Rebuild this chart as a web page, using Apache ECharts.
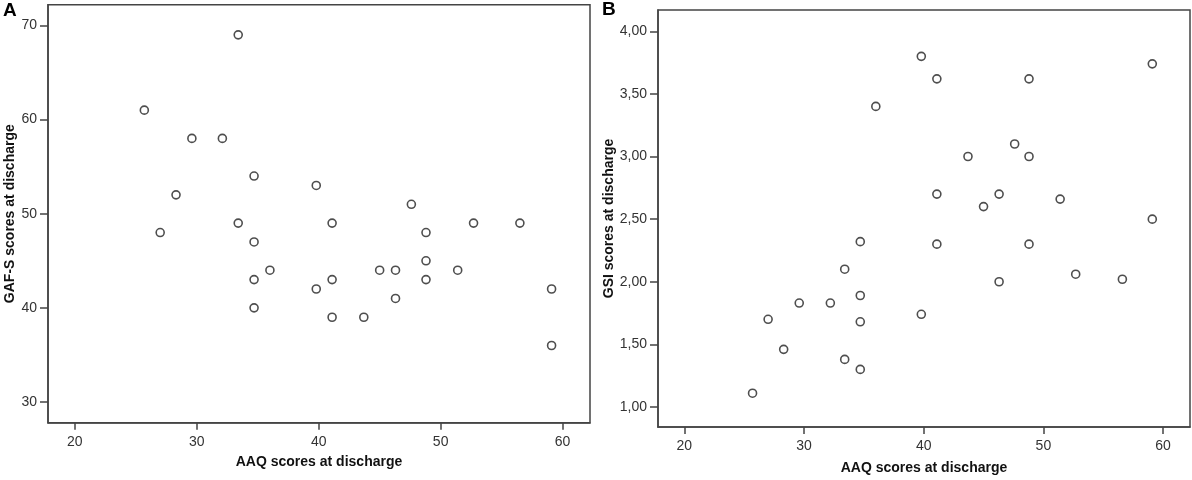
<!DOCTYPE html>
<html>
<head>
<meta charset="utf-8">
<script src="https://cdn.jsdelivr.net/npm/echarts@6/dist/echarts.min.js"></script>
<style>
  html, body { margin: 0; padding: 0; background: #fff; }
  #chart { width: 1192px; height: 480px; }
</style>
</head>
<body>
<div id="chart"></div>
<script>
// AAQ scores at discharge (shared x for both panels)
const aaq = [25.7, 27.0, 28.3, 29.6, 32.1, 33.4, 33.4, 34.7, 34.7, 34.7, 34.7, 36.0, 39.8, 39.8, 41.1,
  41.1, 41.1, 43.7, 45.0, 46.3, 46.3, 47.6, 48.8, 48.8, 48.8, 51.4, 52.7, 56.5, 59.1, 59.1];
// panel A: GAF-S scores, same order as aaq
const gafs = [61, 48, 52, 58, 58, 69, 49, 54, 47, 43, 40, 44, 53, 42, 49,
  43, 39, 39, 44, 44, 41, 51, 48, 45, 43, 44, 49, 49, 42, 36];

// panel B: pairs read separately (different ordering inside ties)
const aaqB = [25.7, 27.0, 28.3, 29.6, 32.2, 33.4, 33.4, 34.7, 34.7, 34.7, 34.7, 36.0, 39.8, 39.8, 41.1,
  41.1, 41.1, 43.7, 45.0, 46.3, 46.3, 47.6, 48.8, 48.8, 48.8, 51.4, 52.7, 56.6, 59.1, 59.1];
const gsi = [1.11, 1.70, 1.46, 1.83, 1.83, 2.10, 1.38, 2.32, 1.89, 1.68, 1.30, 3.40, 3.80, 1.74, 3.62,
  2.70, 2.30, 3.00, 2.60, 2.70, 2.00, 3.10, 3.62, 3.00, 2.30, 2.66, 2.06, 2.02, 3.74, 2.50];

const xTicks = [20, 30, 40, 50, 60];
const gafTicks = [30, 40, 50, 60, 70];
const gsiTicks = [1, 1.5, 2, 2.5, 3, 3.5, 4];

const chart = echarts.init(document.getElementById('chart'));

const lineCol = '#444';
const labelFont = { color: '#333', fontSize: 14, fontFamily: '"Liberation Sans Narrow", "Liberation Sans", Arial, sans-serif' };
const nameFont = { color: '#111', fontSize: 14, fontWeight: 'bold', fontFamily: '"Liberation Sans", Arial, sans-serif' };

function xAxis(gridIndex, gap) {
  return {
    type: 'value', gridIndex: gridIndex, min: 17.8, max: 62.25,
    name: 'AAQ scores at discharge', nameLocation: 'middle', nameGap: gap, nameTextStyle: nameFont,
    axisLine: { show: true, lineStyle: { color: lineCol, width: 1.5 } },
    axisTick: { show: true, inside: false, length: 7, customValues: xTicks, lineStyle: { color: lineCol, width: 1.5 } },
    axisLabel: Object.assign({ margin: 12, customValues: xTicks }, labelFont),
    splitLine: { show: false }
  };
}

function yAxis(gridIndex, min, max, ticks, name, gap, fmt) {
  return {
    type: 'value', gridIndex: gridIndex, min: min, max: max,
    name: name, nameLocation: 'middle', nameGap: gap, nameTextStyle: nameFont,
    axisLine: { show: true, lineStyle: { color: lineCol, width: 1.5 } },
    axisTick: { show: true, inside: false, length: 8, customValues: ticks, lineStyle: { color: lineCol, width: 1.5 } },
    axisLabel: Object.assign({ margin: 11, customValues: ticks, formatter: fmt }, labelFont),
    splitLine: { show: false }
  };
}

const markerStyle = { color: 'rgba(255,255,255,0)', borderColor: '#222', borderWidth: 1.6 };

chart.setOption({
  animation: false,
  backgroundColor: '#fff',
  graphic: [
    { type: 'text', left: 3, top: 1, style: { text: 'A', fontSize: 19, fontWeight: 'bold', fill: '#000', fontFamily: '"Liberation Sans", Arial, sans-serif' } },
    { type: 'text', left: 602, top: 0, style: { text: 'B', fontSize: 19, fontWeight: 'bold', fill: '#000', fontFamily: '"Liberation Sans", Arial, sans-serif' } }
  ],
  grid: [
    { left: 48, right: 602, top: 4.7, bottom: 57.3, show: true, borderColor: lineCol, borderWidth: 1.5, backgroundColor: 'transparent' },
    { left: 658, right: 2, top: 10, bottom: 52, show: true, borderColor: lineCol, borderWidth: 1.5, backgroundColor: 'transparent' }
  ],
  xAxis: [xAxis(0, 32), xAxis(1, 34)],
  yAxis: [
    yAxis(0, 27.8, 72.2, gafTicks, 'GAF-S scores at discharge', 29, v => String(v)),
    yAxis(1, 0.84, 4.17, gsiTicks, 'GSI scores at discharge', 41, v => v.toFixed(2).replace('.', ','))
  ],
  series: [
    {
      type: 'scatter', xAxisIndex: 0, yAxisIndex: 0, symbol: 'circle', symbolSize: 8,
      itemStyle: markerStyle, data: aaq.map((x, i) => [x, gafs[i]])
    },
    {
      type: 'scatter', xAxisIndex: 1, yAxisIndex: 1, symbol: 'circle', symbolSize: 8,
      itemStyle: markerStyle, data: aaqB.map((x, i) => [x, gsi[i]])
    }
  ]
});
</script>
</body>
</html>
